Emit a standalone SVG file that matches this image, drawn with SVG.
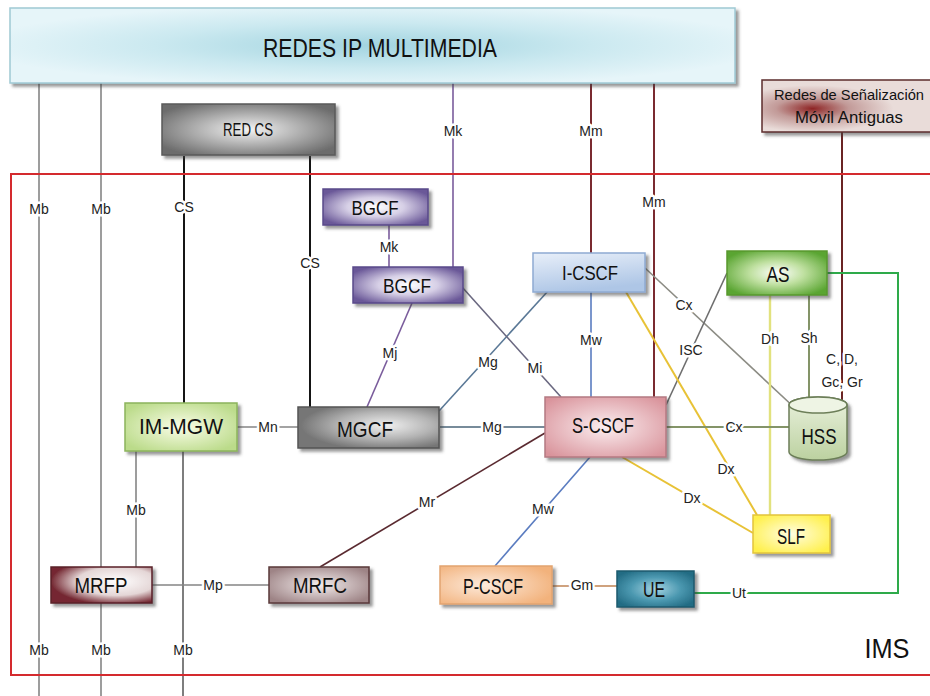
<svg xmlns="http://www.w3.org/2000/svg" width="930" height="696" viewBox="0 0 930 696">
  <defs>
    <filter id="shadow" x="-10%" y="-20%" width="130%" height="160%">
      <feDropShadow dx="3" dy="3" stdDeviation="1.5" flood-color="#404040" flood-opacity="0.55"/>
    </filter>
    <radialGradient id="gBanner" cx="50%" cy="50%" r="55%">
      <stop offset="0" stop-color="#a2d4e0"/>
      <stop offset="0.55" stop-color="#cbe9f0"/>
      <stop offset="1" stop-color="#e6f5f9"/>
    </radialGradient>
    <radialGradient id="gRedCS" cx="50%" cy="50%" r="60%">
      <stop offset="0" stop-color="#f4f4f4"/>
      <stop offset="0.5" stop-color="#b0b0b0"/>
      <stop offset="1" stop-color="#6c6c6c"/>
    </radialGradient>
    <radialGradient id="gBGCF" cx="50%" cy="50%" r="60%">
      <stop offset="0" stop-color="#ffffff"/>
      <stop offset="0.45" stop-color="#d6cfe6"/>
      <stop offset="1" stop-color="#6a5898"/>
    </radialGradient>
    <linearGradient id="gICSCF" x1="0" y1="0" x2="0.3" y2="1">
      <stop offset="0" stop-color="#e8eff9"/>
      <stop offset="1" stop-color="#aec6e6"/>
    </linearGradient>
    <radialGradient id="gAS" cx="50%" cy="50%" r="60%">
      <stop offset="0" stop-color="#ffffff"/>
      <stop offset="0.45" stop-color="#bfe0a0"/>
      <stop offset="1" stop-color="#5aa532"/>
    </radialGradient>
    <linearGradient id="gHSS" x1="0" y1="0" x2="0" y2="1">
      <stop offset="0" stop-color="#e9f1dd"/>
      <stop offset="1" stop-color="#bcd1a0"/>
    </linearGradient>
    <radialGradient id="gSCSCF" cx="50%" cy="50%" r="65%">
      <stop offset="0" stop-color="#fbeef0"/>
      <stop offset="1" stop-color="#d9939b"/>
    </radialGradient>
    <radialGradient id="gMGCF" cx="62%" cy="45%" r="60%">
      <stop offset="0" stop-color="#f0f0f0"/>
      <stop offset="0.55" stop-color="#b4b4b4"/>
      <stop offset="1" stop-color="#767676"/>
    </radialGradient>
    <radialGradient id="gIMMGW" cx="50%" cy="50%" r="60%">
      <stop offset="0" stop-color="#fafde8"/>
      <stop offset="1" stop-color="#bbdb8a"/>
    </radialGradient>
    <radialGradient id="gMRFP" cx="65%" cy="40%" r="65%">
      <stop offset="0" stop-color="#ffffff"/>
      <stop offset="0.6" stop-color="#e4d6d6"/>
      <stop offset="1" stop-color="#742832"/>
    </radialGradient>
    <radialGradient id="gMRFC" cx="50%" cy="50%" r="60%">
      <stop offset="0" stop-color="#f4eeee"/>
      <stop offset="1" stop-color="#9e8486"/>
    </radialGradient>
    <radialGradient id="gPCSCF" cx="40%" cy="50%" r="65%">
      <stop offset="0" stop-color="#fdeadb"/>
      <stop offset="1" stop-color="#f2b27c"/>
    </radialGradient>
    <radialGradient id="gUE" cx="50%" cy="50%" r="60%">
      <stop offset="0" stop-color="#a6d4e2"/>
      <stop offset="0.55" stop-color="#4b98b0"/>
      <stop offset="1" stop-color="#236c84"/>
    </radialGradient>
    <radialGradient id="gSLF" cx="50%" cy="50%" r="60%">
      <stop offset="0" stop-color="#fffde2"/>
      <stop offset="1" stop-color="#fff04c"/>
    </radialGradient>
    <radialGradient id="gRedes" cx="28%" cy="55%" r="45%">
      <stop offset="0" stop-color="#8e2424"/>
      <stop offset="0.45" stop-color="#c29a98"/>
      <stop offset="1" stop-color="#e9dcd9"/>
    </radialGradient>
    <style>
      .box { stroke-width: 1.5; filter: url(#shadow); }
      .nt { font-family: "Liberation Sans", Arial, sans-serif; text-anchor: middle; fill: #111; }
      .lbl { font-family: "Liberation Sans", Arial, sans-serif; font-size: 14px; text-anchor: middle; fill: #222;
             stroke: #ffffff; stroke-width: 5; stroke-linejoin: round; paint-order: stroke; }
      .ln { fill: none; stroke-width: 1.6; }
      .gray { stroke: #858585; }
      .dgray { stroke: #5e5e5e; }
      .black { stroke: #151515; stroke-width: 2; }
      .purple { stroke: #7a5c9c; }
      .mm { stroke: #7a2a30; stroke-width: 2; }
      .mr { stroke: #5a2a30; }
      .slate { stroke: #4a6478; }
      .bluegray { stroke: #5a7896; }
      .mi { stroke: #6a6880; }
      .blue { stroke: #5a7cc0; }
      .cx { stroke: #8c8c84; }
      .isc { stroke: #6e6e6e; }
      .dx { stroke: #e8c236; stroke-width: 2; }
      .dh { stroke: #e2e27e; stroke-width: 2.4; }
      .olive { stroke: #849468; stroke-width: 2; }
      .green { stroke: #2eaa4a; stroke-width: 2; }
      .tan { stroke: #cfa27e; stroke-width: 2; }
      .cd { stroke: #6a2424; stroke-width: 2; }
    </style>
  </defs>

  <rect width="930" height="696" fill="#ffffff"/>

  <!-- interfaces between the functional elements -->
  <g id="connectors">
    <!-- Mb / CS / Mk / Mm trunks from the outer networks -->
    <line class="ln gray" x1="39" y1="83" x2="39" y2="696"/>
    <line class="ln gray" x1="101" y1="83" x2="101" y2="567"/>
    <line class="ln gray" x1="101" y1="603" x2="101" y2="696"/>
    <line class="ln black" x1="184" y1="156" x2="184" y2="403"/>
    <line class="ln dgray" x1="183" y1="451" x2="183" y2="696"/>
    <line class="ln black" x1="310" y1="156" x2="310" y2="407"/>
    <line class="ln purple" x1="453" y1="83" x2="453" y2="267"/>
    <line class="ln purple" x1="389" y1="225" x2="389" y2="267"/>
    <line class="ln mm" x1="591" y1="83" x2="591" y2="253"/>
    <line class="ln mm" x1="654" y1="83" x2="654" y2="397"/>
    <line class="ln cd" x1="842" y1="132" x2="842" y2="401"/>

    <!-- media plane -->
    <line class="ln gray" x1="237" y1="427" x2="298" y2="427"/>
    <line class="ln gray" x1="136" y1="451" x2="136" y2="567"/>
    <line class="ln gray" x1="152" y1="585" x2="269" y2="585"/>
    <line class="ln mr" x1="320" y1="567" x2="545" y2="433"/>

    <!-- control plane -->
    <line class="ln slate" x1="440" y1="427" x2="545" y2="427"/>
    <line class="ln bluegray" x1="439" y1="411" x2="548" y2="291"/>
    <line class="ln mi" x1="462" y1="287" x2="561" y2="397"/>
    <line class="ln purple" x1="412" y1="303" x2="367" y2="407"/>
    <line class="ln blue" x1="591" y1="292" x2="591" y2="397"/>
    <line class="ln cx" x1="645" y1="268" x2="797" y2="410"/>
    <line class="ln isc" x1="727" y1="273" x2="666" y2="405"/>
    <line class="ln dx" x1="626" y1="292" x2="757" y2="515"/>
    <line class="ln dx" x1="622" y1="457" x2="753" y2="533"/>
    <line class="ln dh" x1="770" y1="295" x2="770" y2="515"/>
    <line class="ln olive" x1="809" y1="295" x2="809" y2="398"/>
    <line class="ln olive" x1="666" y1="427" x2="789" y2="427"/>
    <polyline class="ln green" points="827,273 898,273 898,593 694,593"/>
    <line class="ln tan" x1="552" y1="586" x2="617" y2="586"/>
    <line class="ln blue" x1="590" y1="457" x2="495" y2="566"/>

    <!-- interface names -->
    <text class="lbl" x="39" y="214">Mb</text>
    <text class="lbl" x="101" y="214">Mb</text>
    <text class="lbl" x="184" y="212">CS</text>
    <text class="lbl" x="310" y="268">CS</text>
    <text class="lbl" x="453" y="136">Mk</text>
    <text class="lbl" x="389" y="252">Mk</text>
    <text class="lbl" x="591" y="136">Mm</text>
    <text class="lbl" x="654" y="207">Mm</text>
    <text class="lbl" x="842" y="364">C, D,</text>
    <text class="lbl" x="842" y="387">Gc, Gr</text>
    <text class="lbl" x="268" y="432">Mn</text>
    <text class="lbl" x="136" y="515">Mb</text>
    <text class="lbl" x="213" y="590">Mp</text>
    <text class="lbl" x="427" y="507">Mr</text>
    <text class="lbl" x="492" y="432">Mg</text>
    <text class="lbl" x="488" y="367">Mg</text>
    <text class="lbl" x="535" y="373">Mi</text>
    <text class="lbl" x="390" y="358">Mj</text>
    <text class="lbl" x="591" y="345">Mw</text>
    <text class="lbl" x="684" y="310">Cx</text>
    <text class="lbl" x="691" y="355">ISC</text>
    <text class="lbl" x="726" y="474">Dx</text>
    <text class="lbl" x="692" y="503">Dx</text>
    <text class="lbl" x="770" y="344">Dh</text>
    <text class="lbl" x="809" y="343">Sh</text>
    <text class="lbl" x="734" y="432">Cx</text>
    <text class="lbl" x="739" y="598">Ut</text>
    <text class="lbl" x="582" y="590">Gm</text>
    <text class="lbl" x="543" y="514">Mw</text>
    <text class="lbl" x="39" y="655">Mb</text>
    <text class="lbl" x="101" y="655">Mb</text>
    <text class="lbl" x="183" y="655">Mb</text>
  </g>

  <!-- IMS domain boundary -->
  <g id="ims-domain">
    <rect x="11" y="174" width="940" height="501" fill="none" stroke="#d42a2e" stroke-width="2"/>
    <text class="nt" x="887" y="658" font-size="28" textLength="45" lengthAdjust="spacingAndGlyphs">IMS</text>
  </g>

  <g id="redes-ip">
    <rect class="box" x="10" y="8" width="725" height="75" fill="url(#gBanner)" stroke="#9fc9d4"/>
    <text class="nt" x="380" y="57" font-size="26" textLength="234" lengthAdjust="spacingAndGlyphs">REDES IP MULTIMEDIA</text>
  </g>

  <g id="redes-senalizacion">
    <rect class="box" x="762" y="80" width="180" height="52" fill="url(#gRedes)" stroke="#5c2c2c"/>
    <text class="nt" x="774" y="100" font-size="15" style="text-anchor:start" textLength="150" lengthAdjust="spacingAndGlyphs">Redes de Señalización</text>
    <text class="nt" x="795" y="123" font-size="16" style="text-anchor:start" textLength="108" lengthAdjust="spacingAndGlyphs">Móvil Antiguas</text>
  </g>

  <g id="red-cs">
    <rect class="box" x="162" y="104" width="173" height="51" fill="url(#gRedCS)" stroke="#5a5a5a"/>
    <text class="nt" x="248" y="136" font-size="18" textLength="50" lengthAdjust="spacingAndGlyphs">RED CS</text>
  </g>

  <g id="bgcf-1">
    <rect class="box" x="323" y="189" width="105" height="36" fill="url(#gBGCF)" stroke="#5a4a8a"/>
    <text class="nt" x="375" y="215" font-size="21" textLength="47" lengthAdjust="spacingAndGlyphs">BGCF</text>
  </g>

  <g id="bgcf-2">
    <rect class="box" x="353" y="267" width="110" height="36" fill="url(#gBGCF)" stroke="#5a4a8a"/>
    <text class="nt" x="407" y="293" font-size="21" textLength="48" lengthAdjust="spacingAndGlyphs">BGCF</text>
  </g>

  <g id="i-cscf">
    <rect class="box" x="533" y="253" width="112" height="39" fill="url(#gICSCF)" stroke="#8eaad2"/>
    <text class="nt" x="590" y="280" font-size="21" textLength="56" lengthAdjust="spacingAndGlyphs">I-CSCF</text>
  </g>

  <g id="as">
    <rect class="box" x="727" y="251" width="100" height="44" fill="url(#gAS)" stroke="#58982e"/>
    <text class="nt" x="778" y="282" font-size="22" textLength="23" lengthAdjust="spacingAndGlyphs">AS</text>
  </g>

  <g id="hss">
    <path class="box" d="M789,405 L789,452 A29,8 0 0 0 847,452 L847,405 A29,8 0 0 0 789,405 Z" fill="url(#gHSS)" stroke="#6c7e58"/>
    <ellipse cx="818" cy="405" rx="29" ry="8" fill="#eef4e4" stroke="#6c7e58" stroke-width="1.5"/>
    <text class="nt" x="819" y="444" font-size="22" textLength="35" lengthAdjust="spacingAndGlyphs">HSS</text>
  </g>

  <g id="s-cscf">
    <rect class="box" x="545" y="397" width="121" height="60" fill="url(#gSCSCF)" stroke="#b47a82"/>
    <text class="nt" x="603" y="433" font-size="22" textLength="62" lengthAdjust="spacingAndGlyphs">S-CSCF</text>
  </g>

  <g id="mgcf">
    <rect class="box" x="298" y="407" width="141" height="41" fill="url(#gMGCF)" stroke="#555555"/>
    <text class="nt" x="365" y="437" font-size="22" textLength="56" lengthAdjust="spacingAndGlyphs">MGCF</text>
  </g>

  <g id="im-mgw">
    <rect class="box" x="125" y="403" width="112" height="48" fill="url(#gIMMGW)" stroke="#8cb45c"/>
    <text class="nt" x="181" y="434" font-size="22" textLength="84" lengthAdjust="spacingAndGlyphs">IM-MGW</text>
  </g>

  <g id="mrfp">
    <rect class="box" x="51" y="567" width="101" height="36" fill="url(#gMRFP)" stroke="#5a2028"/>
    <text class="nt" x="101" y="593" font-size="22" textLength="53" lengthAdjust="spacingAndGlyphs">MRFP</text>
  </g>

  <g id="mrfc">
    <rect class="box" x="269" y="567" width="100" height="36" fill="url(#gMRFC)" stroke="#5a383a"/>
    <text class="nt" x="320" y="593" font-size="22" textLength="54" lengthAdjust="spacingAndGlyphs">MRFC</text>
  </g>

  <g id="p-cscf">
    <rect class="box" x="440" y="566" width="112" height="38" fill="url(#gPCSCF)" stroke="#e2a470"/>
    <text class="nt" x="493" y="594" font-size="22" textLength="60" lengthAdjust="spacingAndGlyphs">P-CSCF</text>
  </g>

  <g id="ue">
    <rect class="box" x="617" y="571" width="77" height="36" fill="url(#gUE)" stroke="#1e5a6e"/>
    <text class="nt" x="654" y="597" font-size="22" textLength="22" lengthAdjust="spacingAndGlyphs">UE</text>
  </g>

  <g id="slf">
    <rect class="box" x="753" y="515" width="77" height="38" fill="url(#gSLF)" stroke="#e2c43c"/>
    <text class="nt" x="791" y="544" font-size="22" textLength="28" lengthAdjust="spacingAndGlyphs">SLF</text>
  </g>
</svg>
